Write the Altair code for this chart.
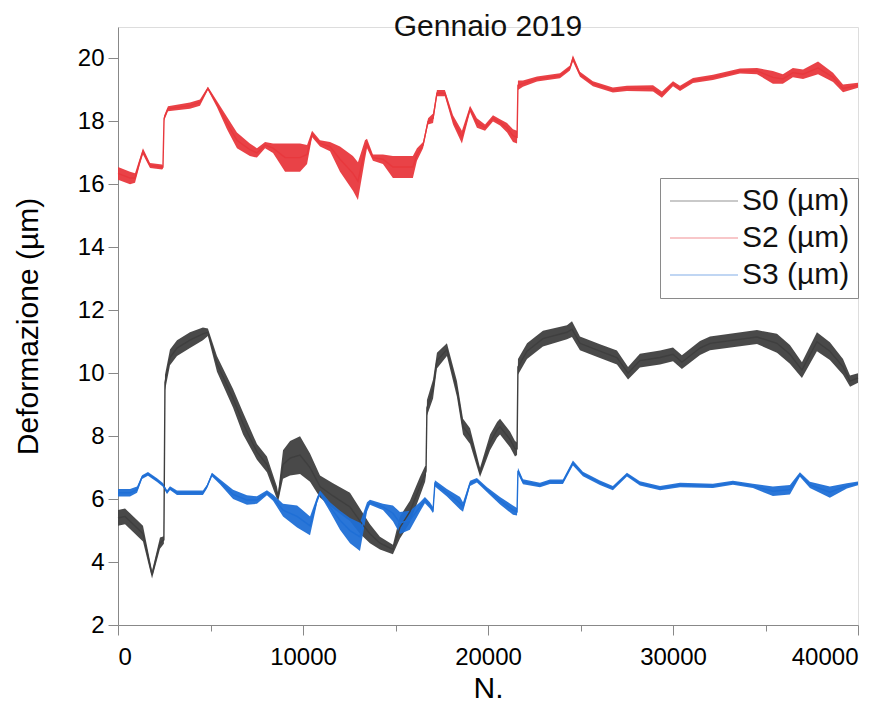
import altair as alt
import pandas as pd

# Sample index (N.) and strain readings; each series is described by its
# centre value and the half-width of its noise band at a set of indices.
s0_x = [0, 380, 650, 1350, 1840, 2270, 2480, 2540, 2810, 3190, 3890, 4590, 4860, 5350,
        6220, 6760, 7510, 8050, 8590, 8650, 8920, 9300, 9840, 10380, 10920, 11620, 12540,
        13080, 13620, 14160, 14860, 15240, 15780, 16320, 16600, 16650, 16700, 17030, 17240,
        17780, 18320, 18650, 19030, 19570, 20110, 20490, 20650, 21190, 21460, 21570, 21620,
        22110, 22970, 24270, 24540, 24970, 26050, 26970, 27570, 28210, 29300, 30000, 30480,
        31460, 32000, 34540, 35620, 36320, 36970, 37780, 38480, 39190, 39570, 40000]
s0_y = [5.4, 5.45, 5.3, 4.9, 3.6, 4.6, 4.7, 9.7, 10.5, 10.8, 11.05, 11.25, 11.3, 10.3,
        9.2, 8.4, 7.5, 7.1, 6.2, 6.05, 7.1, 7.3, 7.4, 7.0, 6.4, 6.1, 5.75,
        5.3, 4.9, 4.6, 4.4, 5.1, 5.6, 6.4, 6.8, 6.9, 8.9, 9.5, 10.4,
        10.75, 9.5, 8.3, 8.0, 6.85, 7.8, 8.2, 8.3, 7.9, 7.6, 7.6, 10.2,
        10.7, 11.1, 11.3, 11.4, 10.95, 10.7, 10.5, 10.0, 10.4, 10.5, 10.6, 10.35,
        10.8, 10.95, 11.15, 10.95, 10.6, 10.1, 11.0, 10.7, 10.2, 9.75, 9.85]
s0_w = [0.25, 0.25, 0.25, 0.25, 0.12, 0.18, 0.12, 0.25, 0.25, 0.25, 0.25, 0.2, 0.12, 0.25,
        0.3, 0.35, 0.25, 0.25, 0.2, 0.15, 0.45, 0.55, 0.6, 0.45, 0.35, 0.4, 0.45,
        0.4, 0.3, 0.2, 0.15, 0.35, 0.35, 0.3, 0.25, 0.15, 0.25, 0.3, 0.25,
        0.2, 0.25, 0.25, 0.25, 0.15, 0.25, 0.25, 0.25, 0.25, 0.25, 0.2, 0.25,
        0.25, 0.25, 0.22, 0.25, 0.22, 0.22, 0.22, 0.2, 0.22, 0.22, 0.22, 0.22,
        0.22, 0.22, 0.22, 0.3, 0.3, 0.25, 0.3, 0.28, 0.25, 0.18, 0.15]

s2_x = [0, 650, 920, 1190, 1350, 1730, 2380, 2430, 2490, 2700, 3890, 4430, 4860, 5350,
        5890, 6430, 7130, 7510, 7950, 8380, 9030, 9840, 10220, 10490, 10920, 11460, 12000,
        12700, 12970, 13350, 13460, 13780, 14320, 14860, 15940, 16160, 16490, 16760, 17030,
        17240, 17670, 18110, 18590, 19030, 19400, 19840, 20270, 20650, 21030, 21350, 21570,
        21620, 21890, 22650, 23890, 24430, 24590, 24970, 25670, 26750, 27510, 28920, 29400,
        30000, 30380, 31080, 32160, 33620, 34540, 35400, 35940, 36480, 37030, 37840, 38650,
        39190, 40000]
s2_y = [16.35, 16.2, 16.2, 16.75, 17.05, 16.6, 16.55, 16.55, 18.1, 18.4, 18.5, 18.6, 19.05, 18.55,
        17.95, 17.4, 17.1, 17.0, 17.25, 17.15, 16.85, 16.85, 16.95, 17.6, 17.3, 17.2, 16.8,
        16.35, 16.1, 17.1, 17.3, 16.85, 16.8, 16.55, 16.55, 16.95, 17.25, 18.0, 18.1,
        18.9, 18.9, 18.05, 17.5, 18.4, 17.95, 17.8, 18.1, 17.97, 17.8, 17.55, 17.5,
        19.15, 19.2, 19.35, 19.45, 19.7, 20.0, 19.5, 19.2, 19.0, 19.05, 19.05, 18.85,
        19.2, 19.05, 19.3, 19.4, 19.6, 19.6, 19.4, 19.35, 19.55, 19.5, 19.7, 19.4,
        19.05, 19.15]
s2_w = [0.2, 0.2, 0.15, 0.1, 0.1, 0.08, 0.08, 0.05, 0.08, 0.08, 0.1, 0.1, 0.05, 0.1,
        0.2, 0.25, 0.2, 0.15, 0.1, 0.15, 0.45, 0.45, 0.3, 0.1, 0.1, 0.15, 0.4,
        0.55, 0.6, 0.3, 0.15, 0.1, 0.15, 0.35, 0.35, 0.2, 0.1, 0.1, 0.15,
        0.1, 0.1, 0.15, 0.2, 0.1, 0.15, 0.1, 0.1, 0.1, 0.15, 0.2, 0.2,
        0.15, 0.1, 0.08, 0.08, 0.08, 0.1, 0.08, 0.08, 0.08, 0.08, 0.1, 0.1,
        0.08, 0.08, 0.08, 0.08, 0.08, 0.1, 0.2, 0.15, 0.15, 0.15, 0.2, 0.15,
        0.12, 0.08]

s3_x = [0, 650, 1030, 1300, 1620, 2110, 2430, 2650, 2810, 3190, 4590, 4810, 5080, 5510,
        6220, 6970, 7510, 8050, 8380, 8920, 9680, 10380, 10760, 10920, 11460, 12000, 12540,
        13080, 13460, 13620, 14320, 14860, 15240, 15780, 16320, 16590, 16860, 17030, 17130,
        17780, 18490, 18650, 19030, 19400, 19950, 20650, 21350, 21570, 21620, 21890, 22810,
        23350, 24050, 24590, 25130, 26050, 26750, 27510, 28210, 29300, 30380, 32160, 33240,
        34320, 35400, 36320, 36860, 37400, 38480, 39400, 40000]
s3_y = [6.2, 6.2, 6.3, 6.7, 6.8, 6.6, 6.45, 6.22, 6.35, 6.2, 6.2, 6.4, 6.78, 6.55,
        6.15, 5.97, 5.97, 6.2, 6.05, 5.65, 5.45, 5.15, 5.97, 6.2, 5.75, 5.33, 5.0,
        4.8, 5.75, 5.9, 5.75, 5.55, 5.24, 5.33, 5.75, 5.97, 5.8, 5.65, 6.5,
        6.2, 5.87, 5.75, 6.5, 6.6, 6.3, 5.95, 5.65, 5.6, 6.9, 6.55, 6.45,
        6.55, 6.55, 7.15, 6.8, 6.52, 6.35, 6.78, 6.5, 6.35, 6.45, 6.42, 6.52,
        6.42, 6.25, 6.3, 6.78, 6.45, 6.22, 6.42, 6.5]
s3_w = [0.12, 0.12, 0.1, 0.06, 0.06, 0.06, 0.06, 0.06, 0.06, 0.07, 0.07, 0.06, 0.06, 0.08,
        0.15, 0.15, 0.12, 0.08, 0.1, 0.2, 0.35, 0.3, 0.1, 0.07, 0.15, 0.3, 0.4,
        0.45, 0.15, 0.08, 0.1, 0.25, 0.35, 0.3, 0.15, 0.1, 0.1, 0.1, 0.1,
        0.12, 0.2, 0.15, 0.08, 0.07, 0.08, 0.12, 0.15, 0.12, 0.1, 0.08, 0.07,
        0.07, 0.07, 0.08, 0.07, 0.07, 0.07, 0.06, 0.07, 0.07, 0.07, 0.07, 0.06,
        0.07, 0.15, 0.15, 0.07, 0.1, 0.18, 0.08, 0.06]

series_names = ["S0 (µm)", "S2 (µm)", "S3 (µm)"]
series_colors = ["#3f3f3f", "#e8383d", "#1f6fd6"]


def frame(name, xs, ys, ws, order):
    return pd.DataFrame({
        "N": xs,
        "value": ys,
        "low": [y - w for y, w in zip(ys, ws)],
        "high": [y + w for y, w in zip(ys, ws)],
        "series": name,
        "order": order,
    })


data = pd.concat([
    frame(series_names[0], s0_x, s0_y, s0_w, 0),
    frame(series_names[1], s2_x, s2_y, s2_w, 1),
    frame(series_names[2], s3_x, s3_y, s3_w, 2),
], ignore_index=True)

FONT = "Liberation Sans"
AXIS_COLOR = "#3a3a3a"

x_scale = alt.Scale(domain=[0, 40000], nice=False, zero=False)
y_scale = alt.Scale(domain=[2, 21], nice=False, zero=False)
color_scale = alt.Scale(domain=series_names, range=series_colors)

# Long, thin legend strokes: a wide custom path inside a small symbol cell,
# so the rows stay compact.
legend = alt.Legend(
    title=None,
    orient="none",
    legendX=542,
    legendY=151,
    symbolType="M-3.4,0H3.4",
    symbolSize=400,
    symbolStrokeWidth=1.2,
    symbolOpacity=0.55,
    symbolOffset=21,
    labelFontSize=30,
    labelFont=FONT,
    labelColor="#111111",
    labelOffset=23,
    rowPadding=7,
    padding=8,
    strokeColor="#8a8a8a",
    fillColor="white",
)

x_axis = alt.Axis(
    title="N.",
    values=list(range(0, 40001, 5000)),
    labelExpr="datum.value % 10000 == 0 ? datum.label : ''",
    format="d",
    grid=False,
    tickSize={"condition": {"test": "datum.value % 10000 == 0", "value": 10}, "value": 6},
    labelFontSize=24,
    titleFontSize=30,
    titleFontWeight="normal",
    labelPadding=10,
    titlePadding=4,
)
y_axis = alt.Axis(
    title="Deformazione (µm)",
    values=list(range(2, 22)),
    labelExpr="datum.value % 2 == 0 ? datum.label : ''",
    grid=False,
    tickSize={"condition": {"test": "datum.value % 2 == 0", "value": 10}, "value": 8},
    labelFontSize=24,
    titleFontSize=30,
    titleFontWeight="normal",
    labelPadding=4,
    titlePadding=34,
)

base = alt.Chart(data)

band = base.mark_area(opacity=0.95).encode(
    x=alt.X("N:Q", scale=x_scale, axis=x_axis),
    y=alt.Y("low:Q", scale=y_scale, axis=y_axis),
    y2="high:Q",
    color=alt.Color("series:N", scale=color_scale, legend=legend),
    detail="series:N",
    order=alt.Order("order:Q"),
)

centre = base.mark_line(strokeWidth=1.4).encode(
    x=alt.X("N:Q", scale=x_scale),
    y=alt.Y("value:Q", scale=y_scale),
    color=alt.Color("series:N", scale=color_scale, legend=legend),
)

chart = (
    alt.layer(band, centre)
    .properties(
        width=740,
        height=598,
        title=alt.TitleParams(
            "Gennaio 2019",
            fontSize=30,
            fontWeight="normal",
            font=FONT,
            color="#111111",
            anchor="middle",
            baseline="alphabetic",
            offset=-39,
        ),
        autosize=alt.AutoSizeParams(type="none"),
        padding={"left": 118, "top": 27, "right": 38, "bottom": 92},
    )
    .configure_view(stroke=None)
    .configure_axis(
        labelFont=FONT,
        titleFont=FONT,
        labelColor="#111111",
        titleColor="#111111",
        domainColor=AXIS_COLOR,
        domainWidth=2,
        tickColor=AXIS_COLOR,
        tickWidth=2,
    )
    .configure(background="white")
)

chart.save("out.html", embed_options={"renderer": "svg", "actions": False})
